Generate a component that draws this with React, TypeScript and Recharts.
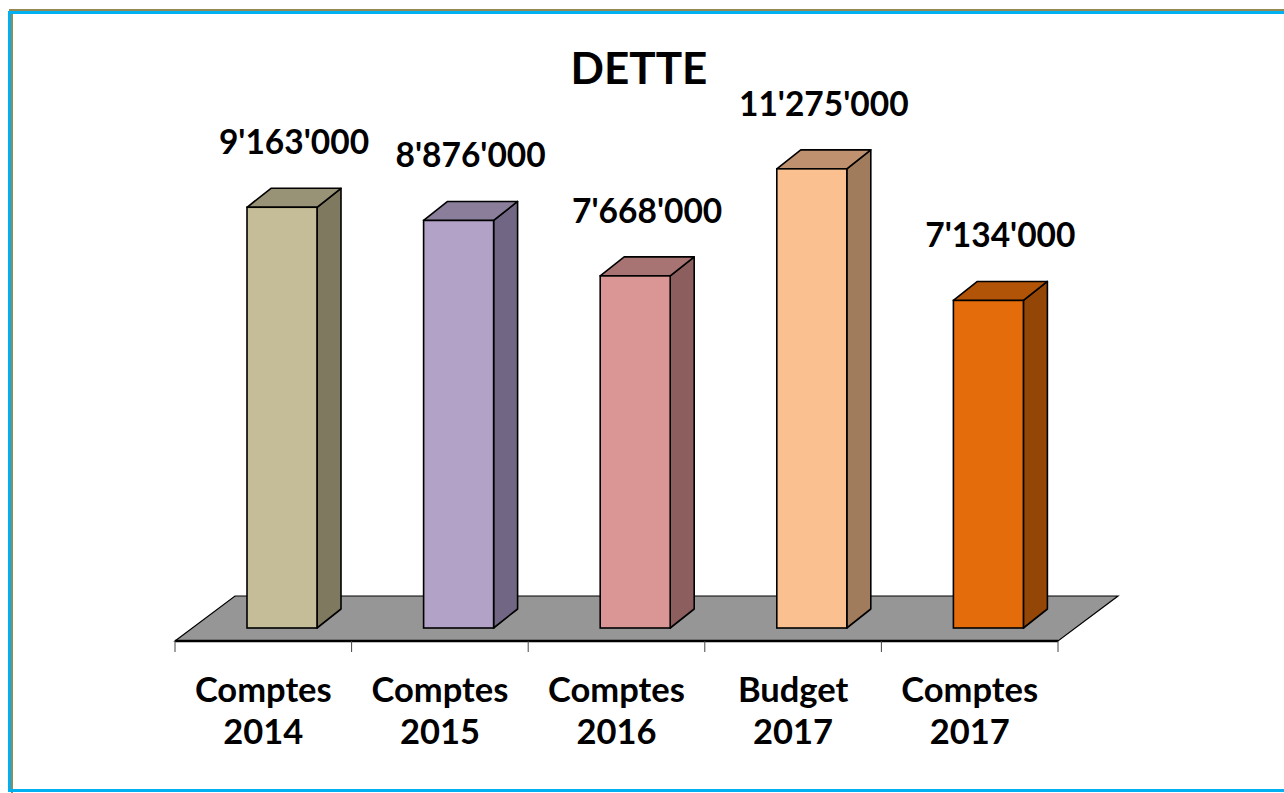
import { BarChart, Bar, XAxis, YAxis, ReferenceArea } from "recharts"

const categories = ["Comptes 2014", "Comptes 2015", "Comptes 2016", "Budget 2017", "Comptes 2017"]
const dette = [9163000, 8876000, 7668000, 11275000, 7134000]
const frontColors = ["#C4BD97", "#B3A2C7", "#D99694", "#FAC090", "#E46C0A"]
const topColors = ["#989276", "#8B7E9B", "#A87473", "#BF916E", "#B15408"]
const sideColors = ["#7F7A5F", "#716784", "#8C5F5E", "#A07B5C", "#944607"]

// axis in the original stops at 10'000'000, taller bars get cut there
const AXIS_MAX = 10000000
const DOMAIN_MAX = 12000000

const data = categories.map((name, i) => ({ name, value: dette[i] }))

const FONT = "Lato, 'Open Sans', sans-serif"
const DX = 24
const DY = 19
const SHIFT = 19

const fmt = (v: number) => String(v).replace(/\B(?=(\d{3})+(?!\d))/g, "'")

function Box3D(props: any) {
  const { x, y, width, height, payload, index } = props
  const bottom = y + height
  const ratio = height / payload.value
  const top = bottom - Math.min(payload.value, AXIS_MAX) * ratio
  const x0 = x + SHIFT
  const w = width
  const sw = 1.6
  return (
    <g>
      <polygon
        points={`${x0 + w},${top} ${x0 + w + DX},${top - DY} ${x0 + w + DX},${bottom - DY} ${x0 + w},${bottom}`}
        fill={sideColors[index]}
        stroke="#000"
        strokeWidth={sw}
        strokeLinejoin="round"
      />
      <polygon
        points={`${x0},${top} ${x0 + DX},${top - DY} ${x0 + w + DX},${top - DY} ${x0 + w},${top}`}
        fill={topColors[index]}
        stroke="#000"
        strokeWidth={sw}
        strokeLinejoin="round"
      />
      <rect x={x0} y={top} width={w} height={bottom - top} fill={frontColors[index]} stroke="#000" strokeWidth={sw} />
      <text
        x={x0 + w / 2 + 12}
        y={top - 53}
        textAnchor="middle"
        fontFamily={FONT}
        fontWeight={700}
        fontSize={33.5}
        fill="#000"
      >
        {fmt(payload.value)}
      </text>
    </g>
  )
}

function Floor(props: any) {
  const { x, y, width, height } = props
  const base = y + height
  const front = base + 13
  const back = base - 32
  const depth = 60
  const n = categories.length
  return (
    <g>
      <polygon
        points={`${x},${front} ${x + depth},${back} ${x + width + depth},${back} ${x + width},${front}`}
        fill="#969696"
        stroke="#000"
        strokeWidth={1.2}
      />
      <line x1={x} y1={front} x2={x + width} y2={front} stroke="#000" strokeWidth={2.5} />
      {Array.from({ length: n + 1 }).map((_, i) => (
        <line
          key={i}
          x1={x + (width * i) / n}
          y1={front}
          x2={x + (width * i) / n}
          y2={front + 11}
          stroke="#444"
          strokeWidth={1}
        />
      ))}
    </g>
  )
}

function CatTick(props: any) {
  const { x, y, payload } = props
  const [l1, l2] = String(payload.value).split(" ")
  return (
    <g>
      <text x={x} y={y + 74} textAnchor="middle" fontFamily={FONT} fontWeight={700} fontSize={34.5} fill="#000">
        {l1}
      </text>
      <text x={x} y={y + 116} textAnchor="middle" fontFamily={FONT} fontWeight={700} fontSize={34.5} fill="#000">
        {l2}
      </text>
    </g>
  )
}

export default function App() {
  return (
    <div style={{ position: "absolute", left: 0, top: 0, width: 1284, height: 793, background: "#fff", overflow: "hidden" }}>
      <div style={{ position: "absolute", left: 9, top: 9, width: 1275, height: 2, background: "#948A54" }} />
      <div style={{ position: "absolute", left: 8, top: 11, width: 1276, height: 3, background: "#00B0F0" }} />
      <div style={{ position: "absolute", left: 11, top: 14, width: 2, height: 779, background: "#948A54" }} />
      <div style={{ position: "absolute", left: 8, top: 11, width: 3, height: 781, background: "#00B0F0" }} />
      <div style={{ position: "absolute", left: 8, top: 789, width: 1276, height: 3, background: "#00B0F0" }} />
      <div
        style={{
          position: "absolute",
          left: 0,
          width: 1278,
          top: 40,
          textAlign: "center",
          fontFamily: FONT,
          fontWeight: 700,
          fontSize: 44,
          lineHeight: "54px",
          color: "#000",
        }}
      >
        DETTE
      </div>
      <div style={{ position: "absolute", left: 0, top: 0 }}>
        <BarChart width={1284} height={793} data={data} margin={{ top: 77, right: 226, bottom: 0, left: 175 }}>
          <ReferenceArea y1={0} y2={AXIS_MAX} shape={<Floor />} zIndex={-10} ifOverflow="visible" />
          <XAxis dataKey="name" axisLine={false} tickLine={false} tickSize={0} tickMargin={0} tick={<CatTick />} interval={0} height={165} />
          <YAxis hide domain={[0, DOMAIN_MAX]} />
          <Bar dataKey="value" barSize={70} shape={<Box3D />} isAnimationActive={false} />
        </BarChart>
      </div>
    </div>
  )
}
